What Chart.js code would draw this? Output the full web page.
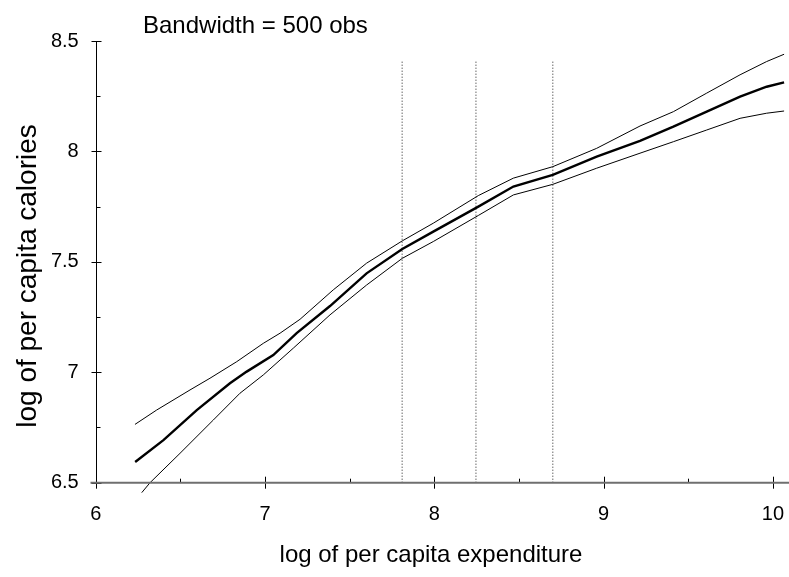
<!DOCTYPE html>
<html>
<head>
<meta charset="utf-8">
<script src="https://cdn.jsdelivr.net/npm/chart.js@4.4.1/dist/chart.umd.min.js"></script>
<style>
  html, body { margin: 0; padding: 0; background: #fff; overflow: hidden; }
  #wrap { width: 789px; height: 577px; }
</style>
</head>
<body>
<div id="wrap"><canvas id="chart" width="789" height="577"></canvas></div>
<script>
// ---- data ----
const centerX = [6.233, 6.40, 6.597, 6.793, 6.892, 7.049, 7.187, 7.384, 7.60, 7.811, 7.994, 8.26, 8.467, 8.70, 8.959, 9.215, 9.412, 9.609, 9.806, 9.963, 10.066];
const centerY = [6.594, 6.693, 6.829, 6.950, 7.003, 7.078, 7.177, 7.300, 7.448, 7.558, 7.637, 7.750, 7.841, 7.894, 7.976, 8.048, 8.112, 8.180, 8.248, 8.293, 8.313];

const upperX = [6.232, 6.36, 6.557, 6.675, 6.833, 6.99, 7.089, 7.207, 7.403, 7.60, 7.811, 7.994, 8.26, 8.467, 8.70, 8.959, 9.215, 9.412, 9.609, 9.806, 9.963, 10.066];
const upperY = [6.764, 6.829, 6.920, 6.973, 7.048, 7.131, 7.177, 7.240, 7.373, 7.494, 7.595, 7.675, 7.800, 7.879, 7.931, 8.014, 8.115, 8.180, 8.264, 8.347, 8.407, 8.440];

const lowerX = [6.272, 6.321, 6.498, 6.695, 6.852, 6.99, 7.167, 7.384, 7.60, 7.811, 7.994, 8.26, 8.467, 8.70, 8.959, 9.215, 9.412, 9.609, 9.806, 9.963, 10.066];
const lowerY = [6.455, 6.500, 6.633, 6.784, 6.905, 6.988, 7.109, 7.260, 7.395, 7.516, 7.592, 7.710, 7.803, 7.851, 7.924, 7.992, 8.044, 8.097, 8.150, 8.173, 8.183];

const cutPoints = [7.81, 8.246, 8.70];
const cutTop = 8.41;
const cutBottom = 6.5;

const xTicks = [6, 7, 8, 9, 10];
const xMinor = [6.5, 7.5, 8.5, 9.5];
const yTicks = [6.5, 7, 7.5, 8, 8.5];
const yMinor = [6.75, 7.25, 7.75, 8.25];

const titleText = 'Bandwidth = 500 obs';
const xTitle = 'log of per capita expenditure';
const yTitle = 'log of per capita calories';

const FONT = '"Liberation Sans", Arial, sans-serif';

function toPoints(xs, ys) {
    return xs.map((x, i) => ({ x: x, y: ys[i] }));
}

// axes with crossing major ticks and inside minor ticks, plus the texts
const axesPlugin = {
    id: 'axesPlugin',
    afterDraw(chart) {
        const ctx = chart.ctx;
        const xs = chart.scales.x;
        const ys = chart.scales.y;
        const x0 = Math.round(xs.getPixelForValue(6)) + 0.5;
        const y0 = ys.getPixelForValue(6.5);
        ctx.save();
        ctx.strokeStyle = '#000';
        ctx.lineWidth = 1;

        // y axis
        ctx.beginPath();
        ctx.moveTo(x0, ys.getPixelForValue(8.5));
        ctx.lineTo(x0, y0 + 5);
        ctx.stroke();

        ctx.beginPath();
        yTicks.forEach(v => {
            const p = Math.round(ys.getPixelForValue(v)) + 0.5;
            ctx.moveTo(x0 - 5, p); ctx.lineTo(x0 + 5, p);
        });
        yMinor.forEach(v => {
            const p = Math.round(ys.getPixelForValue(v)) + 0.5;
            ctx.moveTo(x0, p); ctx.lineTo(x0 + 4, p);
        });
        xTicks.forEach(v => {
            const p = Math.round(xs.getPixelForValue(v)) + 0.5;
            ctx.moveTo(p, y0 - 6); ctx.lineTo(p, y0 + 6);
        });
        xMinor.forEach(v => {
            const p = Math.round(xs.getPixelForValue(v)) + 0.5;
            ctx.moveTo(p, y0 - 4); ctx.lineTo(p, y0);
        });
        ctx.stroke();

        // x axis (greyish, as in the original)
        ctx.strokeStyle = '#6f6f6f';
        ctx.lineWidth = 2;
        ctx.beginPath();
        ctx.moveTo(x0 - 6, y0);
        ctx.lineTo(chart.width, y0);
        ctx.stroke();

        // texts
        ctx.fillStyle = '#000';
        ctx.textBaseline = 'alphabetic';
        ctx.font = '24px ' + FONT;
        ctx.textAlign = 'left';
        ctx.fillText(titleText, 143, 33);
        ctx.textAlign = 'center';
        ctx.fillText(xTitle, 431, 562);
        ctx.translate(36, 276);
        ctx.rotate(-Math.PI / 2);
        ctx.font = '28px ' + FONT;
        ctx.fillText(yTitle, 0, 0);
        ctx.restore();
    }
};

const datasets = [
    {
        label: 'upper',
        data: toPoints(upperX, upperY),
        borderColor: '#000',
        borderWidth: 1,
    },
    {
        label: 'fit',
        data: toPoints(centerX, centerY),
        borderColor: '#000',
        borderWidth: 2.4,
    },
    {
        label: 'lower',
        data: toPoints(lowerX, lowerY),
        borderColor: '#000',
        borderWidth: 1,
    },
    ...cutPoints.map(c => ({
        label: 'cut ' + c,
        data: [{ x: c, y: cutBottom }, { x: c, y: cutTop }],
        borderColor: '#222',
        borderWidth: 1,
        borderDash: [1, 2],
    }))
].map(d => Object.assign({ showLine: true, pointRadius: 0, tension: 0, clip: false, fill: false }, d));

// invisible tick marks just push the labels away from the axes
const hiddenGrid = { display: true, drawOnChartArea: false, drawTicks: true, color: 'transparent' };

new Chart(document.getElementById('chart'), {
    type: 'scatter',
    data: { datasets: datasets },
    options: {
        animation: false,
        responsive: false,
        layout: { padding: { top: 41, right: 0, left: 0, bottom: 0 } },
        plugins: {
            legend: { display: false },
            tooltip: { enabled: false },
        },
        scales: {
            x: {
                type: 'linear',
                min: 6,
                max: 10.095,
                grid: Object.assign({ tickLength: 18 }, hiddenGrid),
                border: { display: false },
                afterBuildTicks: s => { s.ticks = xTicks.map(v => ({ value: v })); },
                afterFit: s => { s.height = 94.3; },
                ticks: {
                    padding: 2,
                    color: '#000',
                    font: { family: FONT, size: 20 },
                    maxRotation: 0,
                    callback: v => String(v),
                },
            },
            y: {
                type: 'linear',
                min: 6.5,
                max: 8.5,
                grid: Object.assign({ tickLength: 15 }, hiddenGrid),
                border: { display: false },
                afterBuildTicks: s => { s.ticks = yTicks.map(v => ({ value: v })); },
                afterFit: s => { s.width = 95.7; },
                ticks: {
                    padding: 2,
                    color: '#000',
                    font: { family: FONT, size: 20 },
                    callback: v => String(v),
                },
            },
        },
    },
    plugins: [axesPlugin],
});
</script>
</body>
</html>
